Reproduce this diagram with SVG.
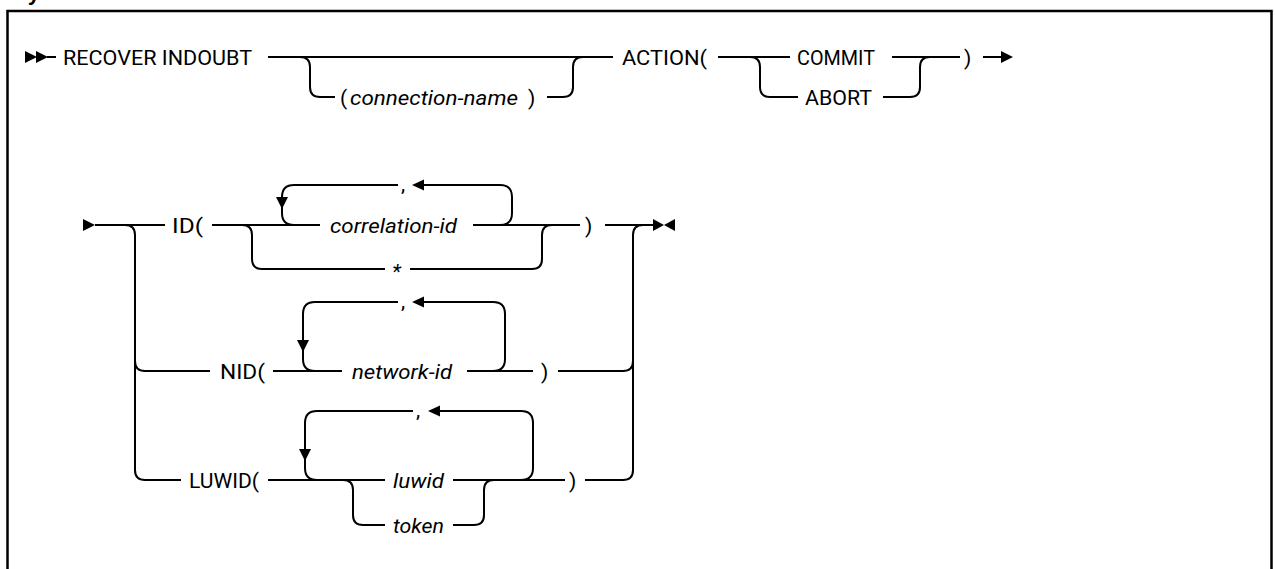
<svg xmlns="http://www.w3.org/2000/svg" xmlns:xlink="http://www.w3.org/1999/xlink" width="1275" height="569" viewBox="0 0 1275 569">
<style>
.ln{fill:none;stroke:#000;stroke-width:2}
.ah{fill:#000;stroke:none}
.t{font-family:Roboto,"Liberation Sans",sans-serif;font-size:21px;fill:#000}
.v{font-style:italic}
.frame{fill:none;stroke:#000;stroke-width:2.5}
.hd{font-family:"Liberation Sans",Arial,sans-serif;font-size:22px;font-weight:bold;fill:#000}
</style>
<defs>
<polygon id="triR" class="ah" points="0,-6 12,0 0,6"/>
<polygon id="triL" class="ah" points="0,0 12,-5.5 12,5.5"/>
<polygon id="triD" class="ah" points="-6,0 6,0 0,12"/>
</defs>
<rect width="1275" height="569" fill="#fff"/>
<text class="hd" x="13" y="0">Syntax</text>
<rect class="frame" x="7.5" y="11" width="1264" height="600"/>
<g id="connectors">
<use xlink:href="#triR" x="25" y="57"/>
<use xlink:href="#triR" x="36" y="57"/>
<path class="ln" d="M47,57 H56"/>
<path class="ln" d="M268,57 H613"/>
<path class="ln" d="M300,57 Q310,57 310,67 V87 Q310,97 320,97 H335"/>
<path class="ln" d="M547,97 H563 Q573,97 573,87 V67 Q573,57 583,57"/>
<path class="ln" d="M718,57 H790"/>
<path class="ln" d="M750,57 Q760,57 760,67 V87 Q760,97 770,97 H798"/>
<path class="ln" d="M883,97 H910 Q920,97 920,87 V67 Q920,57 930,57"/>
<path class="ln" d="M892,57 H960"/>
<path class="ln" d="M983,57 H1002"/>
<use xlink:href="#triR" x="1001" y="57"/>
<use xlink:href="#triR" x="83" y="225"/>
<path class="ln" d="M95,225 H165"/>
<path class="ln" d="M125,225 Q135,225 135,235 V470 Q135,480 145,480 H181"/>
<path class="ln" d="M135,361 Q135,371 145,371 H210"/>
<path class="ln" d="M212,225 H320"/>
<path class="ln" d="M242,225 Q252,225 252,235 V259 Q252,269 262,269 H385"/>
<path class="ln" d="M410,269 H532 Q542,269 542,259 V235 Q542,225 552,225"/>
<path class="ln" d="M294,225 Q282,225 282,213 V197 Q282,185 294,185 H398"/>
<path class="ln" d="M424,185 H500 Q512,185 512,197 V213 Q512,225 500,225"/>
<use xlink:href="#triL" x="412" y="185"/>
<use xlink:href="#triD" x="282" y="197"/>
<path class="ln" d="M473,225 H580"/>
<path class="ln" d="M605,225 H653"/>
<path class="ln" d="M623,480 Q633,480 633,470 V235 Q633,225 643,225"/>
<path class="ln" d="M623,371 Q633,371 633,361"/>
<polygon class="ah" points="653,219 664,225 653,231"/>
<polygon class="ah" points="675,219 664,225 675,231"/>
<path class="ln" d="M273,371 H342"/>
<path class="ln" d="M315,371 Q303,371 303,359 V314 Q303,302 315,302 H398"/>
<path class="ln" d="M424,302 H493 Q505,302 505,314 V359 Q505,371 493,371"/>
<use xlink:href="#triL" x="412" y="302"/>
<use xlink:href="#triD" x="303" y="340"/>
<path class="ln" d="M467,371 H533"/>
<path class="ln" d="M558,371 H623"/>
<path class="ln" d="M268,480 H385"/>
<path class="ln" d="M317,480 Q305,480 305,468 V423 Q305,411 317,411 H413"/>
<path class="ln" d="M440,411 H521 Q533,411 533,423 V468 Q533,480 521,480"/>
<use xlink:href="#triL" x="428" y="411"/>
<use xlink:href="#triD" x="305" y="449"/>
<path class="ln" d="M343,480 Q353,480 353,490 V515 Q353,525 363,525 H385"/>
<path class="ln" d="M453,525 H474 Q484,525 484,515 V490 Q484,480 494,480"/>
<path class="ln" d="M453,480 H565"/>
<path class="ln" d="M585,480 H623"/>
</g>
<g id="n-recover"><text class="t" x="63" y="64.5" textLength="189" lengthAdjust="spacingAndGlyphs">RECOVER INDOUBT</text></g>
<g id="n-connection"><text class="t" x="340" y="104.5">(</text><text class="t v" x="350" y="104.5" textLength="168" lengthAdjust="spacingAndGlyphs">connection-name</text><text class="t" x="528" y="104.5">)</text></g>
<g id="n-action"><text class="t" x="622" y="64.5" textLength="85" lengthAdjust="spacingAndGlyphs">ACTION(</text></g>
<g id="n-commit"><text class="t" x="797" y="64.5" textLength="78" lengthAdjust="spacingAndGlyphs">COMMIT</text></g>
<g id="n-abort"><text class="t" x="805" y="104.5" textLength="67" lengthAdjust="spacingAndGlyphs">ABORT</text></g>
<g id="n-action-close"><text class="t" x="964" y="64.5">)</text></g>
<g id="n-id"><text class="t" x="172" y="232.5" textLength="31" lengthAdjust="spacingAndGlyphs">ID(</text></g>
<g id="n-id-sep"><text class="t" x="401" y="191">,</text></g>
<g id="n-correlation"><text class="t v" x="330" y="232.5" textLength="127" lengthAdjust="spacingAndGlyphs">correlation-id</text></g>
<g id="n-star"><text class="t v" x="392" y="279">*</text></g>
<g id="n-id-close"><text class="t" x="585" y="232.5">)</text></g>
<g id="n-nid"><text class="t" x="220" y="378.5" textLength="45" lengthAdjust="spacingAndGlyphs">NID(</text></g>
<g id="n-nid-sep"><text class="t" x="401" y="308">,</text></g>
<g id="n-network"><text class="t v" x="352" y="378.5" textLength="100" lengthAdjust="spacingAndGlyphs">network-id</text></g>
<g id="n-nid-close"><text class="t" x="541" y="378.5">)</text></g>
<g id="n-luwid"><text class="t" x="189" y="487.5" textLength="70" lengthAdjust="spacingAndGlyphs">LUWID(</text></g>
<g id="n-luwid-sep"><text class="t" x="416" y="417">,</text></g>
<g id="n-luwid-v"><text class="t v" x="393" y="487.5" textLength="51" lengthAdjust="spacingAndGlyphs">luwid</text></g>
<g id="n-token"><text class="t v" x="393" y="532.5" textLength="51" lengthAdjust="spacingAndGlyphs">token</text></g>
<g id="n-luwid-close"><text class="t" x="569" y="487.5">)</text></g>
</svg>
